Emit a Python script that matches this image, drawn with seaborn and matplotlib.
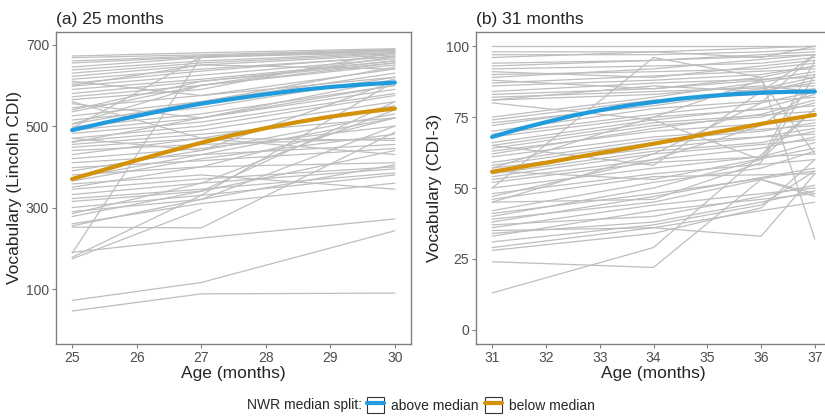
import numpy as np
import pandas as pd
import seaborn as sns
from matplotlib import pyplot as plt
from matplotlib.lines import Line2D
from matplotlib.patches import Patch
from matplotlib.legend_handler import HandlerTuple

sns.set_style("ticks")
plt.rcParams['font.family'] = ['Liberation Sans', 'DejaVu Sans']

nan = np.nan

# ---- panel (a): individual children, Lincoln CDI at 25, 27, 30 months
ages_a = [25, 27, 30]
kids_a = [
    [672, 680, 690], [668, 675, 688], [660, 672, 686], [655, 670, 684],
    [645, 668, 685], [638, 660, 680], [630, 655, 678], [622, 650, 675],
    [615, 640, 670], [605, 635, 672], [598, 625, 665], [590, 615, 660],
    [580, 610, 655], [572, 600, 650], [565, 590, 682], [555, 520, 600],
    [545, 575, 640], [535, 600, 670], [525, 560, 630], [515, 545, 620],
    [505, 560, 645], [498, 530, 600], [490, 520, 590], [482, 510, 580],
    [470, 500, 575], [462, 490, 560], [455, 480, 520], [448, 470, 465],
    [440, 455, 470], [430, 470, 550], [420, 445, 500], [410, 430, 455],
    [398, 415, 445], [390, 440, 530], [380, 400, 410], [372, 430, 520],
    [365, 420, 480], [358, 380, 345], [345, 370, 400], [332, 360, 395],
    [322, 345, 385], [315, 340, 440], [300, 330, 380], [290, 320, 500],
    [285, 360, 540], [278, 340, 560], [260, 310, 360], [252, 250, 485],
    [190, 225, 272], [188, 670, 688], [178, 330, 610], [174, 296, nan],
    [72, 116, 243], [46, 88, 90], [495, 670, 680], [560, 470, 430],
    [610, 575, 620], [470, 440, 610], [350, 400, 520], [255, 320, 405],
    [505, 600, 655], [460, 520, 615], [540, 610, 660], [600, 650, 640],
]

# ---- panel (b): individual children, CDI-3 at 31, 34, 36, 37 months
ages_b = [31, 34, 36, 37]
kids_b = [
    [100, 100, nan, 100], [97, 97, 98, 99], [96, nan, nan, 100], [94, 95, 97, 98],
    [93, nan, nan, 97], [92, 93, 94, 96], [91, 89, nan, 95], [90, 91, 92, 94],
    [89, 92, nan, 97], [88, 85, 88, 91], [87, nan, nan, 92], [86, 88, 90, 93],
    [84, 87, nan, 89], [83, 85, 89, 93], [82, 84, nan, 86], [81, 86, 84, 88],
    [75, 82, nan, 90], [74, 81, 83, 85], [73, 79, nan, 87], [72, 80, 85, 89],
    [70, 78, nan, 82], [69, 76, 80, 84], [68, 75, nan, 79], [66, 74, 78, 83],
    [65, 73, nan, 77], [64, 72, 75, 80], [63, 70, nan, 74], [62, 71, 76, 81],
    [61, 68, nan, 72], [50, 96, 89, 32], [59, 67, 70, 73], [58, 66, nan, 69],
    [57, 64, 68, 71], [56, 53, nan, 64], [55, 63, 66, 70], [54, 62, nan, 67],
    [53, 60, 64, 68], [52, 59, nan, 62], [50, 57, 61, 66], [48, 55, nan, 60],
    [47, 60, 72, 85], [46, 54, nan, 55], [45, 46, 59, 90], [42, 52, 57, 63],
    [41, 48, nan, 56], [40, 50, 60, 78], [39, 45, 53, 48], [38, 47, nan, 57],
    [37, 40, 47, 51], [36, 44, nan, 50], [35, 36, 33, 55], [34, 38, 45, 49],
    [33, 42, nan, 48], [31, 37, 44, 56], [29, 36, nan, 45], [28, 34, 43, 60],
    [24, 22, 53, 47], [13, 29, nan, 78], [65, 58, nan, 97], [80, 74, 60, 95],
    [57, 75, 88, 62], [45, 62, 80, 97], [98, 98, 96, 100], [81, 83, 86, 84],
]

# ---- fitted growth curves by NWR median split
fit_age_a = [25, 25.5, 26, 26.5, 27, 27.5, 28, 28.5, 29, 29.5, 30]
fit_above_a = [490, 508, 525, 541, 555, 567, 578, 588, 596, 602, 607]
fit_below_a = [370, 393, 416, 438, 459, 478, 495, 510, 523, 534, 543]

fit_age_b = [31, 31.5, 32, 32.5, 33, 33.5, 34, 34.5, 35, 35.5, 36, 36.5, 37]
fit_above_b = [68, 70.8, 73.2, 75.5, 77.4, 79, 80.3, 81.5, 82.4, 83.1, 83.6, 83.9, 84]
fit_below_b = [55.7, 57.3, 58.9, 60.6, 62.3, 63.9, 65.6, 67.3, 69.1, 70.8, 72.6, 74.2, 75.8]

BLUE = '#1F9BDE'
ORANGE = '#D4920A'
GREY = '#BEBEBE'


def to_long(ages, kids):
    rows = []
    for i, vals in enumerate(kids):
        for a, v in zip(ages, vals):
            if not np.isnan(v):
                rows.append((i, a, v))
    return pd.DataFrame(rows, columns=['child', 'age', 'vocab'])


def fits_long(ages, above, below):
    return pd.concat([
        pd.DataFrame({'age': ages, 'vocab': above, 'group': 'above median'}),
        pd.DataFrame({'age': ages, 'vocab': below, 'group': 'below median'}),
    ])


def draw_panel(ax, ages, kids, fit_age, above, below, title, ylabel):
    sns.lineplot(data=to_long(ages, kids), x='age', y='vocab', units='child',
                 estimator=None, color=GREY, lw=0.9, ax=ax, legend=False)
    sns.lineplot(data=fits_long(fit_age, above, below), x='age', y='vocab',
                 hue='group', palette={'above median': BLUE, 'below median': ORANGE},
                 lw=3, ax=ax, legend=False)
    ax.set_title(title, loc='left', fontsize=12.5, pad=6)
    ax.set_xlabel('Age (months)', fontsize=12.5, labelpad=1)
    ax.set_ylabel(ylabel, fontsize=12.5, labelpad=3)
    for s in ax.spines.values():
        s.set_visible(True)
        s.set_color('#808080')
        s.set_linewidth(1)
    ax.tick_params(colors='#808080', labelcolor='#4D4D4D', labelsize=10,
                   length=3, width=0.8, pad=2)


fig = plt.figure(figsize=(8.25, 4.19), dpi=100)
ax1 = fig.add_axes([56 / 825, 75 / 419, 355 / 825, 312 / 419])
ax2 = fig.add_axes([476 / 825, 75 / 419, 355 / 825, 312 / 419])

draw_panel(ax1, ages_a, kids_a, fit_age_a, fit_above_a, fit_below_a,
           '(a) 25 months', 'Vocabulary (Lincoln CDI)')
ax1.set_xlim(24.75, 30.25)
ax1.set_ylim(-35, 731)
ax1.set_xticks([25, 26, 27, 28, 29, 30])
ax1.set_yticks([100, 300, 500, 700])

draw_panel(ax2, ages_b, kids_b, fit_age_b, fit_above_b, fit_below_b,
           '(b) 31 months', 'Vocabulary (CDI-3)')
ax2.set_xlim(30.7, 37.3)
ax2.set_ylim(-5, 105)
ax2.set_xticks([31, 32, 33, 34, 35, 36, 37])
ax2.set_yticks([0, 25, 50, 75, 100])

# legend at the bottom
box = Patch(facecolor='white', edgecolor='#333333', linewidth=0.8)
handles = [(box, Line2D([], [], color=BLUE, lw=3)),
           (box, Line2D([], [], color=ORANGE, lw=3))]
fig.text(362 / 825, 14 / 419, 'NWR median split:', ha='right', va='center', fontsize=10)
fig.legend(handles, ['above median', 'below median'],
           handler_map={tuple: HandlerTuple(ndivide=1, pad=0)},
           loc='center left', bbox_to_anchor=(367 / 825, 14 / 419), ncol=2,
           frameon=False, fontsize=10, handlelength=1.25, handleheight=1.35,
           handletextpad=0.45, columnspacing=0.5, borderpad=0, borderaxespad=0)

fig.savefig('out.png', dpi=100)
